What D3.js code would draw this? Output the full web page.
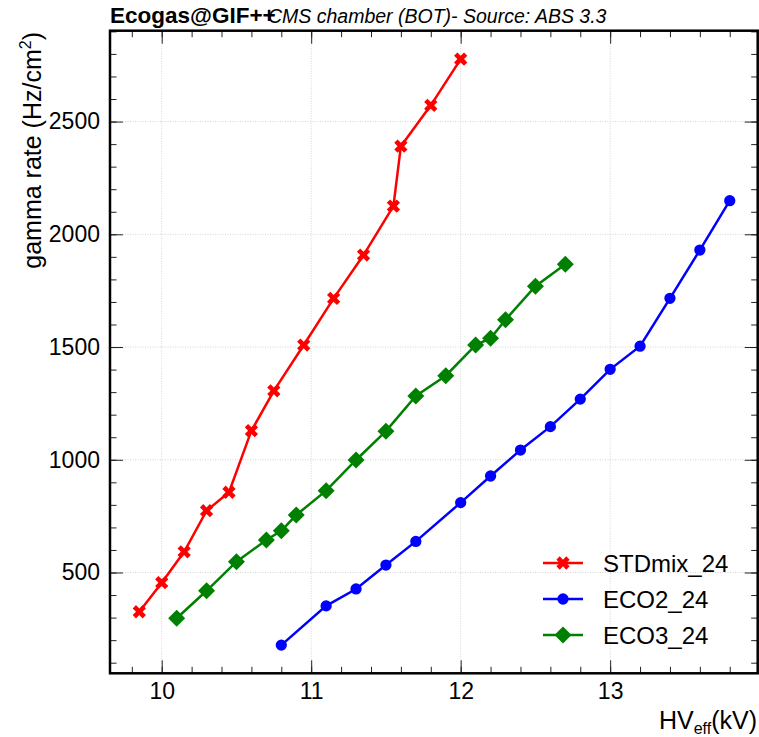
<!DOCTYPE html>
<html>
<head>
<meta charset="utf-8">
<script src="https://cdn.jsdelivr.net/npm/d3@7"></script>
<style>
  body { margin: 0; background: #fff; }
  svg { display: block; font-family: "Liberation Sans", Arial, sans-serif; }
</style>
</head>
<body>
<svg id="chart" width="759" height="737"></svg>
<script>
// Data
const hvStd = [9.85, 10.0, 10.15, 10.3, 10.45, 10.6, 10.75, 10.95, 11.15, 11.35, 11.55, 11.6, 11.8, 12.0];
const rateStd = [326, 455, 592, 774, 856, 1129, 1306, 1509, 1716, 1908, 2125, 2391, 2572, 2777];

const hvEco2 = [10.8, 11.1, 11.3, 11.5, 11.7, 12.0, 12.2, 12.4, 12.6, 12.8, 13.0, 13.2, 13.4, 13.6, 13.8];
const rateEco2 = [178, 352, 427, 533, 638, 810, 928, 1043, 1147, 1269, 1401, 1504, 1716, 1930, 2149];

const hvEco3 = [10.1, 10.3, 10.5, 10.7, 10.8, 10.9, 11.1, 11.3, 11.5, 11.7, 11.9, 12.1, 12.2, 12.3, 12.5, 12.7];
const rateEco3 = [297, 419, 548, 644, 685, 755, 863, 999, 1127, 1283, 1373, 1509, 1539, 1621, 1770, 1867];

const seriesNames = ["STDmix_24", "ECO2_24", "ECO3_24"];
const xTicks = [10, 11, 12, 13];
const yTicks = [500, 1000, 1500, 2000, 2500];

const series = [
  { name: seriesNames[0], color: "#ff0000", marker: "x", xs: hvStd, ys: rateStd },
  { name: seriesNames[1], color: "#0000ff", marker: "circle", xs: hvEco2, ys: rateEco2 },
  { name: seriesNames[2], color: "#008000", marker: "diamond", xs: hvEco3, ys: rateEco3 }
];

// frame edges in px
const fL = 110, fR = 757.7, fT = 30.7, fB = 673.3;

const x = d3.scaleLinear().domain([9.654, 13.987]).range([fL, fR]);
const y = d3.scaleLinear().domain([53, 2903]).range([fB, fT]);

const svg = d3.select("#chart");
svg.append("rect").attr("width", 759).attr("height", 737).attr("fill", "#fff");

// grid
const grid = svg.append("g").attr("stroke", "#d4d4d4").attr("stroke-width", 1).attr("stroke-dasharray", "1,1.5");
grid.selectAll("line.gx").data(xTicks).join("line")
  .attr("class", "gx")
  .attr("x1", d => x(d)).attr("x2", d => x(d)).attr("y1", fT).attr("y2", fB);
grid.selectAll("line.gy").data(yTicks).join("line")
  .attr("class", "gy")
  .attr("y1", d => y(d)).attr("y2", d => y(d)).attr("x1", fL).attr("x2", fR);

// minor tick values
const xMinor = d3.range(9.8, 14.0, 0.2).filter(v => x(v) > fL && x(v) < fR);
const yMinor = d3.range(100, 2901, 100);

function styleAxis(g) {
  g.select(".domain").remove();
  g.selectAll(".tick line").attr("stroke", "#222").attr("stroke-width", 1);
  g.selectAll("text").attr("font-size", 23).attr("fill", "#000")
    .attr("font-family", "'Liberation Sans', Arial, sans-serif");
}

// bottom
svg.append("g").attr("transform", `translate(0,${fB})`)
  .call(d3.axisBottom(x).tickValues(xMinor).tickSize(-6.5).tickFormat(""))
  .call(styleAxis);
svg.append("g").attr("transform", `translate(0,${fB})`)
  .call(d3.axisBottom(x).tickValues(xTicks).tickSize(-13).tickPadding(9).tickFormat(d3.format("d")))
  .call(styleAxis);
// top (mirrored)
svg.append("g").attr("transform", `translate(0,${fT})`)
  .call(d3.axisTop(x).tickValues(xMinor).tickSize(-6.5).tickFormat(""))
  .call(styleAxis);
svg.append("g").attr("transform", `translate(0,${fT})`)
  .call(d3.axisTop(x).tickValues(xTicks).tickSize(-13).tickFormat(""))
  .call(styleAxis);
// left
svg.append("g").attr("transform", `translate(${fL},0)`)
  .call(d3.axisLeft(y).tickValues(yMinor).tickSize(-6.5).tickFormat(""))
  .call(styleAxis);
svg.append("g").attr("transform", `translate(${fL},0)`)
  .call(d3.axisLeft(y).tickValues(yTicks).tickSize(-13).tickPadding(10).tickFormat(d3.format("d")))
  .call(styleAxis);
// right (mirrored)
svg.append("g").attr("transform", `translate(${fR},0)`)
  .call(d3.axisRight(y).tickValues(yMinor).tickSize(-6.5).tickFormat(""))
  .call(styleAxis);
svg.append("g").attr("transform", `translate(${fR},0)`)
  .call(d3.axisRight(y).tickValues(yTicks).tickSize(-13).tickFormat(""))
  .call(styleAxis);

// frame
svg.append("rect")
  .attr("x", fL).attr("y", fT)
  .attr("width", fR - fL).attr("height", fB - fT)
  .attr("fill", "none").attr("stroke", "#000").attr("stroke-width", 2.5);

// markers
function markerPath(type) {
  if (type === "x") return d3.symbol(d3.symbolCross, 110)();
  if (type === "circle") return d3.symbol(d3.symbolCircle, 100)();
  return "M0,-8.5L8.5,0L0,8.5L-8.5,0Z";
}
function markerRotate(type) {
  return type === "x" ? " rotate(45)" : "";
}

const line = d3.line().x(d => x(d[0])).y(d => y(d[1]));

series.forEach(s => {
  const pts = s.xs.map((v, i) => [v, s.ys[i]]);
  const g = svg.append("g");
  g.append("path")
    .datum(pts)
    .attr("d", line)
    .attr("fill", "none")
    .attr("stroke", s.color)
    .attr("stroke-width", 2.5);
  g.selectAll("path.m").data(pts).join("path")
    .attr("class", "m")
    .attr("d", markerPath(s.marker))
    .attr("transform", d => `translate(${x(d[0])},${y(d[1])})` + markerRotate(s.marker))
    .attr("fill", s.color);
});

// legend
const legend = svg.append("g");
series.forEach((s, i) => {
  const cy = 563 + i * 36;
  legend.append("line")
    .attr("x1", 543).attr("x2", 583).attr("y1", cy).attr("y2", cy)
    .attr("stroke", s.color).attr("stroke-width", 2.5);
  legend.append("path")
    .attr("d", markerPath(s.marker))
    .attr("transform", `translate(563,${cy})` + markerRotate(s.marker))
    .attr("fill", s.color);
  legend.append("text")
    .attr("x", 603).attr("y", cy + 8.5)
    .attr("font-size", 24)
    .text(s.name);
});

// titles
svg.append("text")
  .attr("x", 110).attr("y", 23)
  .attr("font-size", 22.5).attr("font-weight", "bold")
  .text("Ecogas@GIF++");
svg.append("text")
  .attr("x", 268).attr("y", 23)
  .attr("font-size", 19.5).attr("font-style", "italic")
  .text("CMS chamber (BOT)- Source: ABS 3.3");

// y axis title
const yt = svg.append("text")
  .attr("transform", "translate(41,32) rotate(-90)")
  .attr("text-anchor", "end")
  .attr("font-size", 25);
yt.append("tspan").text("gamma rate (Hz/cm");
yt.append("tspan").attr("font-size", 16).attr("dy", -10).text("2");
yt.append("tspan").attr("dy", 10).text(")");

// x axis title
const xt = svg.append("text")
  .attr("x", 757).attr("y", 729)
  .attr("text-anchor", "end")
  .attr("font-size", 25);
xt.append("tspan").text("HV");
xt.append("tspan").attr("font-size", 16).attr("dy", 5).text("eff");
xt.append("tspan").attr("dy", -5).text("(kV)");
</script>
</body>
</html>
